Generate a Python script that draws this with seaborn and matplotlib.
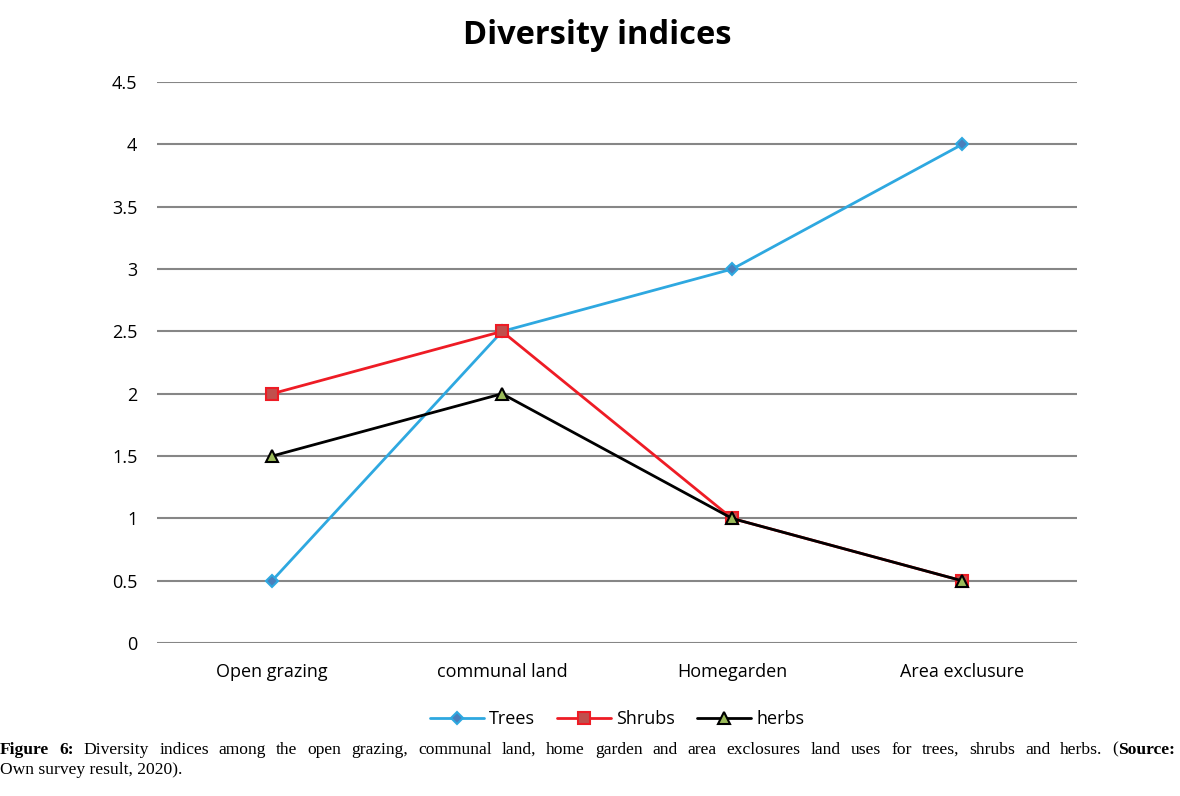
import seaborn as sns
import matplotlib.pyplot as plt
import pandas as pd

categories = ["Open grazing", "communal land", "Homegarden", "Area exclusure"]
trees = [0.5, 2.5, 3.0, 4.0]
shrubs = [2.0, 2.5, 1.0, 0.5]
herbs = [1.5, 2.0, 1.0, 0.5]
y_ticks = [0, 0.5, 1, 1.5, 2, 2.5, 3, 3.5, 4, 4.5]

df = pd.DataFrame({
    "land use": categories * 3,
    "index": trees + shrubs + herbs,
    "group": ["Trees"] * 4 + ["Shrubs"] * 4 + ["herbs"] * 4,
})

sns.set_style("white", {"text.color": "black", "xtick.color": "black", "ytick.color": "black"})
plt.rcParams["font.family"] = ["Open Sans", "DejaVu Sans"]

fig = plt.figure(figsize=(11.8, 7.96), dpi=100)
ax = fig.add_axes([0.133, 0.192, 0.78, 0.705])

line_colors = {"Trees": "#2ea8e0", "Shrubs": "#ee1c25", "herbs": "#000000"}
styles = {
    "Trees": dict(marker="D", mfc="#4a7ebb", mec="#2ea8e0", ms=6.5),
    "Shrubs": dict(marker="s", mfc="#c0504d", mec="#ee1c25", ms=9),
    "herbs": dict(marker="^", mfc="#9bbb59", mec="#000000", ms=9),
}

for name in ["Trees", "Shrubs", "herbs"]:
    sub = df[df["group"] == name]
    sns.lineplot(data=sub, x="land use", y="index", ax=ax, color=line_colors[name],
                 linewidth=2, label=name, sort=False,
                 marker=styles[name]["marker"], markersize=styles[name]["ms"],
                 markerfacecolor=styles[name]["mfc"], markeredgecolor=styles[name]["mec"],
                 markeredgewidth=1.5)

ax.set_xlim(-0.5, 3.5)
ax.set_ylim(0, 4.5)
ax.set_yticks(y_ticks)
ax.set_yticklabels([f"{t:g}" for t in y_ticks])
ax.yaxis.grid(True, color="#868686", linewidth=1.5)
ax.set_axisbelow(True)
for s in ax.spines.values():
    s.set_visible(False)
ax.tick_params(axis="both", length=0, labelsize=13, pad=14, labelcolor="black")
ax.tick_params(axis="y", pad=14)
ax.set_xlabel("")
ax.set_ylabel("")

fig.suptitle("Diversity indices", x=0.506, y=0.976, fontsize=23.5, fontweight="bold", color="black")

leg = ax.legend(loc="center", bbox_to_anchor=(0.5, -0.135), ncol=3, frameon=False,
                fontsize=13, handlelength=3, columnspacing=1.2, handletextpad=0.3)
for t in leg.get_texts():
    t.set_color("black")

# caption, justified over the full width, bold words marked
cap_font = ["Liberation Serif", "DejaVu Serif"]
cap_size = 12.6
line1 = [("Figure", "bold"), ("6:", "bold")] + \
    [(w, "normal") for w in "Diversity indices among the open grazing, communal land, home garden and area exclosures land uses for trees, shrubs and herbs.".split()] + \
    [("(", "normal"), ("Source:", "bold")]
fig.canvas.draw()
renderer = fig.canvas.get_renderer()
W = fig.bbox.width
texts, widths = [], []
for word, w in line1:
    t = fig.text(0, 0.048, word, fontsize=cap_size, fontweight=w, family=cap_font, va="bottom")
    texts.append(t)
    widths.append(t.get_window_extent(renderer).width)
# "(" sticks to "Source:"
gaps = len(line1) - 2
space = (W * 0.996 - sum(widths)) / gaps
x = 0.0
for i, (t, wd) in enumerate(zip(texts, widths)):
    t.set_x(x / W)
    x += wd
    if i < len(texts) - 1 and line1[i][0] != "(":
        x += space
fig.text(0.0, 0.022, "Own survey result, 2020).", fontsize=cap_size, family=cap_font, va="bottom")

fig.savefig("out.png", dpi=100)
